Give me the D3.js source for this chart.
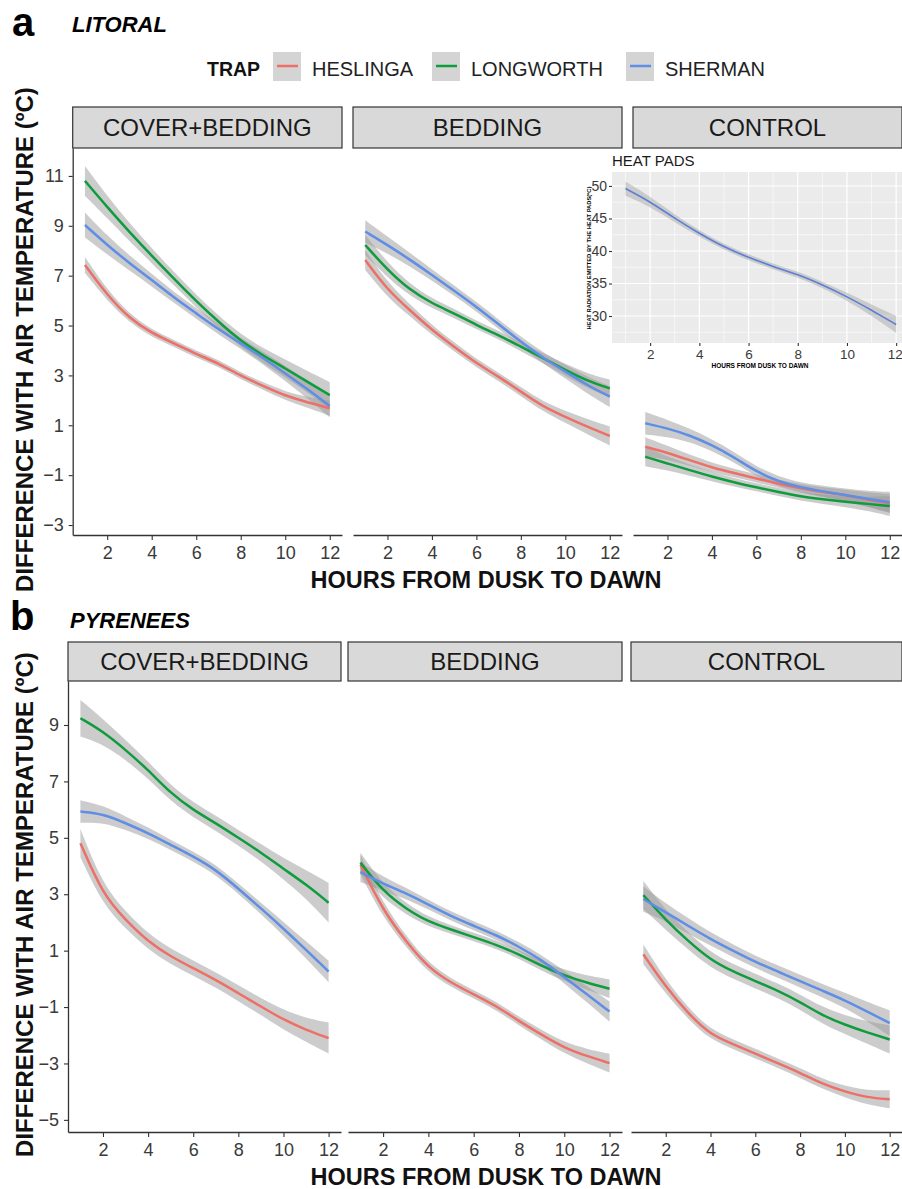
<!DOCTYPE html>
<html>
<head>
<meta charset="utf-8">
<script src="https://cdn.jsdelivr.net/npm/d3@7"></script>
<style>
  body { margin: 0; background: #fff; }
  text { font-family: "Liberation Sans", Arial, sans-serif; }
</style>
</head>
<body>
<div id="showBox"></div>
<script>
// ---- data ----
const hours = [1, 2, 3, 4, 5, 6, 7, 8, 9, 10, 11, 12];
const traps = ["HESLINGA", "LONGWORTH", "SHERMAN"];
const trapColors = ["#ee6f66", "#0e9c3c", "#5e8ee6"];
const treatments = ["COVER+BEDDING", "BEDDING", "CONTROL"];
const xTicks = [2, 4, 6, 8, 10, 12];
const litoralTicks = [-3, -1, 1, 3, 5, 7, 9, 11];
const pyreneesTicks = [-5, -3, -1, 1, 3, 5, 7, 9];
const heatTicks = [30, 35, 40, 45, 50];

// a) LITORAL
const litCovHes = [7.43, 6.22, 5.29, 4.69, 4.29, 3.85, 3.49, 2.98, 2.58, 2.18, 1.92, 1.68];
const litCovLon = [10.8, 9.75, 8.75, 7.8, 6.88, 5.98, 5.15, 4.38, 3.8, 3.28, 2.74, 2.21];
const litCovShe = [9.03, 8.23, 7.5, 6.83, 6.12, 5.49, 4.85, 4.29, 3.7, 3.08, 2.45, 1.77];
const litCovHesSe = [0.32, 0.22, 0.17, 0.15, 0.14, 0.14, 0.14, 0.14, 0.15, 0.17, 0.22, 0.3];
const litCovLonSe = [0.6, 0.45, 0.36, 0.3, 0.27, 0.25, 0.25, 0.26, 0.3, 0.36, 0.43, 0.52];
const litCovSheSe = [0.5, 0.38, 0.3, 0.25, 0.22, 0.21, 0.21, 0.22, 0.25, 0.3, 0.37, 0.45];

const litBedHes = [7.63, 6.43, 5.62, 4.82, 4.15, 3.49, 2.95, 2.35, 1.75, 1.34, 0.94, 0.57];
const litBedLon = [8.23, 7.23, 6.43, 5.89, 5.49, 5.02, 4.62, 4.15, 3.69, 3.22, 2.78, 2.48];
const litBedShe = [8.77, 8.23, 7.65, 7.03, 6.4, 5.76, 5.05, 4.35, 3.7, 3.15, 2.6, 2.15];
const litBedHesSe = [0.4, 0.3, 0.24, 0.2, 0.18, 0.17, 0.17, 0.18, 0.2, 0.24, 0.3, 0.38];
const litBedLonSe = [0.4, 0.3, 0.24, 0.2, 0.18, 0.17, 0.17, 0.18, 0.2, 0.24, 0.3, 0.35];
const litBedSheSe = [0.45, 0.34, 0.27, 0.23, 0.2, 0.19, 0.19, 0.2, 0.22, 0.27, 0.34, 0.42];

const litConHes = [0.14, -0.1, -0.4, -0.69, -0.92, -1.13, -1.35, -1.53, -1.68, -1.8, -1.98, -2.13];
const litConLon = [-0.26, -0.53, -0.8, -1.06, -1.29, -1.49, -1.68, -1.86, -1.97, -2.07, -2.15, -2.24];
const litConShe = [1.08, 0.88, 0.6, 0.21, -0.28, -0.86, -1.26, -1.5, -1.65, -1.8, -1.95, -2.09];
const litConHesSe = [0.38, 0.28, 0.22, 0.19, 0.17, 0.16, 0.16, 0.17, 0.19, 0.22, 0.28, 0.38];
const litConLonSe = [0.38, 0.28, 0.22, 0.19, 0.17, 0.16, 0.16, 0.17, 0.19, 0.22, 0.28, 0.4];
const litConSheSe = [0.45, 0.34, 0.27, 0.23, 0.21, 0.2, 0.2, 0.2, 0.22, 0.26, 0.32, 0.42];

// b) PYRENEES
const pyrCovHes = [4.81, 2.98, 2.09, 1.32, 0.79, 0.38, -0.04, -0.51, -0.98, -1.45, -1.81, -2.1];
const pyrCovLon = [9.24, 8.77, 8.12, 7.41, 6.58, 5.99, 5.52, 5.0, 4.48, 3.9, 3.35, 2.7];
const pyrCovShe = [5.93, 5.85, 5.52, 5.17, 4.75, 4.34, 3.87, 3.2, 2.5, 1.78, 1.03, 0.26];
const pyrCovHesSe = [0.5, 0.35, 0.3, 0.28, 0.27, 0.27, 0.27, 0.28, 0.3, 0.35, 0.42, 0.55];
const pyrCovLonSe = [0.65, 0.45, 0.35, 0.3, 0.28, 0.27, 0.27, 0.28, 0.3, 0.38, 0.5, 0.7];
const pyrCovSheSe = [0.4, 0.3, 0.24, 0.2, 0.18, 0.18, 0.18, 0.18, 0.2, 0.24, 0.3, 0.38];

const pyrBedHes = [4.05, 2.42, 1.34, 0.39, -0.14, -0.55, -0.96, -1.5, -1.98, -2.45, -2.74, -2.99];
const pyrBedLon = [4.12, 3.1, 2.49, 2.02, 1.75, 1.48, 1.21, 0.87, 0.46, 0.12, -0.14, -0.35];
const pyrBedShe = [3.78, 3.37, 3.04, 2.63, 2.22, 1.88, 1.55, 1.14, 0.67, 0.06, -0.55, -1.16];
const pyrBedHesSe = [0.35, 0.25, 0.2, 0.17, 0.15, 0.15, 0.15, 0.15, 0.17, 0.2, 0.25, 0.33];
const pyrBedLonSe = [0.35, 0.25, 0.2, 0.17, 0.15, 0.15, 0.15, 0.15, 0.17, 0.2, 0.25, 0.33];
const pyrBedSheSe = [0.35, 0.25, 0.2, 0.17, 0.16, 0.16, 0.16, 0.16, 0.18, 0.22, 0.28, 0.36];

const pyrConHes = [0.87, -0.28, -1.23, -1.98, -2.31, -2.65, -2.99, -3.33, -3.73, -4.0, -4.21, -4.27];
const pyrConLon = [2.97, 2.09, 1.34, 0.67, 0.26, -0.08, -0.42, -0.82, -1.3, -1.63, -1.9, -2.15];
const pyrConShe = [2.83, 2.36, 1.88, 1.41, 1.0, 0.6, 0.26, -0.08, -0.42, -0.76, -1.16, -1.57];
const pyrConHesSe = [0.35, 0.25, 0.2, 0.18, 0.17, 0.17, 0.17, 0.17, 0.18, 0.2, 0.25, 0.32];
const pyrConLonSe = [0.5, 0.35, 0.3, 0.27, 0.26, 0.26, 0.26, 0.27, 0.3, 0.33, 0.4, 0.5];
const pyrConSheSe = [0.45, 0.32, 0.27, 0.24, 0.22, 0.22, 0.22, 0.22, 0.24, 0.27, 0.34, 0.45];

// inset: heat pads
const heatPads = [49.6, 47.6, 45.0, 42.7, 40.6, 39.0, 37.6, 36.4, 34.8, 33.0, 30.9, 28.7];
const heatPadsSe = [1.1, 0.8, 0.6, 0.5, 0.45, 0.45, 0.45, 0.45, 0.5, 0.6, 0.85, 1.3];

const litoral = [
    [[litCovHes, litCovHesSe], [litCovLon, litCovLonSe], [litCovShe, litCovSheSe]],
    [[litBedHes, litBedHesSe], [litBedLon, litBedLonSe], [litBedShe, litBedSheSe]],
    [[litConHes, litConHesSe], [litConLon, litConLonSe], [litConShe, litConSheSe]]
];
const pyrenees = [
    [[pyrCovHes, pyrCovHesSe], [pyrCovLon, pyrCovLonSe], [pyrCovShe, pyrCovSheSe]],
    [[pyrBedHes, pyrBedHesSe], [pyrBedLon, pyrBedLonSe], [pyrBedShe, pyrBedSheSe]],
    [[pyrConHes, pyrConHesSe], [pyrConLon, pyrConLonSe], [pyrConShe, pyrConSheSe]]
];

// ---- layout ----
const W = 902, H = 1189;
const xDomain = [0.45, 12.55];
const layoutA = {stripTop: 107, top: 148, bottom: 535, yDomain: [-3.4, 12.12],
    panels: [[72.7, 342], [353, 622], [633, 902]], yTicks: litoralTicks};
const layoutB = {stripTop: 642, top: 681, bottom: 1132, yDomain: [-5.43, 10.56],
    panels: [[68, 341], [348, 622], [631, 902]], yTicks: pyreneesTicks};

const svg = d3.select("#showBox").append("svg")
    .attr("width", W).attr("height", H)
    .style("display", "block")
    .style("background", "#fff");

function styleAxis(g, size) {
    g.select(".domain").attr("stroke", "#333").attr("stroke-width", 1.3);
    g.selectAll(".tick line").attr("stroke", "#333").attr("stroke-width", 1.1);
    g.selectAll(".tick text").attr("fill", "#3a3a3a")
        .attr("font-size", size)
        .attr("font-family", "'Liberation Sans', Arial, sans-serif");
}

function drawRegion(L, data) {
    const y = d3.scaleLinear().domain(L.yDomain).range([L.bottom, L.top]);

    data.forEach((facet, i) => {
        const [x0, x1] = L.panels[i];
        const x = d3.scaleLinear().domain(xDomain).range([x0, x1]);
        const g = svg.append("g");

        // strip
        g.append("rect")
            .attr("x", x0).attr("y", L.stripTop)
            .attr("width", x1 - x0).attr("height", L.top - L.stripTop)
            .attr("fill", "#d9d9d9").attr("stroke", "#333").attr("stroke-width", 1.2);
        g.append("text")
            .attr("x", (x0 + x1) / 2).attr("y", (L.stripTop + L.top) / 2)
            .attr("dy", "0.36em").attr("text-anchor", "middle")
            .attr("font-size", 24).attr("fill", "#1a1a1a")
            .text(treatments[i]);

        const area = d3.area()
            .x((d, j) => x(hours[j]))
            .y0((d, j) => y(d[0][j] - d[1][j]))
            .y1((d, j) => y(d[0][j] + d[1][j]))
            .curve(d3.curveBasis);
        const line = d3.line()
            .x((v, j) => x(hours[j]))
            .y(v => y(v))
            .curve(d3.curveBasis);

        // confidence ribbons
        g.append("g").selectAll("path")
            .data(facet)
            .join("path")
            .attr("d", s => area(hours.map(() => s)))
            .attr("fill", "#999")
            .attr("fill-opacity", 0.5);

        // smooth lines
        g.append("g").selectAll("path")
            .data(facet)
            .join("path")
            .attr("d", s => line(s[0]))
            .attr("fill", "none")
            .attr("stroke", (s, k) => trapColors[k])
            .attr("stroke-width", 2.5);

        const xa = g.append("g")
            .attr("transform", `translate(0,${L.bottom})`)
            .call(d3.axisBottom(x).tickValues(xTicks).tickSize(5).tickSizeOuter(0).tickPadding(6));
        styleAxis(xa, 18);

        if (i === 0) {
            const ya = g.append("g")
                .attr("transform", `translate(${x0},0)`)
                .call(d3.axisLeft(y).tickValues(L.yTicks).tickSize(4).tickSizeOuter(0).tickPadding(5));
            styleAxis(ya, 18);
        }
    });

    // axis titles
    svg.append("text")
        .attr("transform", `translate(33,${(L.top + L.bottom) / 2 - 2}) rotate(-90)`)
        .attr("text-anchor", "middle")
        .attr("font-size", 24).attr("font-weight", "bold").attr("fill", "#111")
        .text("DIFFERENCE WITH AIR TEMPERATURE (ºC)");
    svg.append("text")
        .attr("x", 486).attr("y", L.bottom + 53)
        .attr("text-anchor", "middle")
        .attr("font-size", 23.5).attr("font-weight", "bold").attr("fill", "#111")
        .text("HOURS FROM DUSK TO DAWN");
}

drawRegion(layoutA, litoral);
drawRegion(layoutB, pyrenees);

// panel labels
svg.append("text").attr("x", 12).attr("y", 36)
    .attr("font-size", 40).attr("font-weight", "bold").text("a");
svg.append("text").attr("x", 72).attr("y", 32)
    .attr("font-size", 22).attr("font-weight", "bold").attr("font-style", "italic").text("LITORAL");
svg.append("text").attr("x", 10).attr("y", 630)
    .attr("font-size", 40).attr("font-weight", "bold").text("b");
svg.append("text").attr("x", 70).attr("y", 628)
    .attr("font-size", 22).attr("font-weight", "bold").attr("font-style", "italic").text("PYRENEES");

// legend
const legend = svg.append("g");
legend.append("text").attr("x", 207).attr("y", 76)
    .attr("font-size", 19.5).attr("font-weight", "bold").attr("fill", "#111").text("TRAP");
const keyX = [273, 432, 626];
traps.forEach((t, k) => {
    legend.append("rect").attr("x", keyX[k]).attr("y", 52).attr("width", 28).attr("height", 29)
        .attr("fill", "#d4d4d4");
    legend.append("line").attr("x1", keyX[k] + 4).attr("x2", keyX[k] + 25)
        .attr("y1", 66).attr("y2", 66)
        .attr("stroke", trapColors[k]).attr("stroke-width", 2.5);
    legend.append("text").attr("x", keyX[k] + 39).attr("y", 76)
        .attr("font-size", 20).attr("fill", "#222").text(t);
});

// ---- inset: HEAT PADS ----
const inset = svg.append("g");
const ix = d3.scaleLinear().domain(xDomain).range([612, 909.7]);
const iy = d3.scaleLinear().domain([25.85, 52.15]).range([343, 172]);
inset.append("rect").attr("x", 612).attr("y", 172).attr("width", 297.7).attr("height", 171)
    .attr("fill", "#ebebeb");
// minor grid
inset.append("g").selectAll("line")
    .data([1, 3, 5, 7, 9, 11]).join("line")
    .attr("x1", d => ix(d)).attr("x2", d => ix(d)).attr("y1", 172).attr("y2", 343)
    .attr("stroke", "#fff").attr("stroke-width", 0.6);
inset.append("g").selectAll("line")
    .data([27.5, 32.5, 37.5, 42.5, 47.5]).join("line")
    .attr("x1", 612).attr("x2", 909.7).attr("y1", d => iy(d)).attr("y2", d => iy(d))
    .attr("stroke", "#fff").attr("stroke-width", 0.6);
// major grid
inset.append("g").selectAll("line")
    .data(xTicks).join("line")
    .attr("x1", d => ix(d)).attr("x2", d => ix(d)).attr("y1", 172).attr("y2", 343)
    .attr("stroke", "#fff").attr("stroke-width", 1.2);
inset.append("g").selectAll("line")
    .data(heatTicks).join("line")
    .attr("x1", 612).attr("x2", 909.7).attr("y1", d => iy(d)).attr("y2", d => iy(d))
    .attr("stroke", "#fff").attr("stroke-width", 1.2);

inset.append("path")
    .attr("d", d3.area()
        .x((d, j) => ix(hours[j]))
        .y0((d, j) => iy(heatPads[j] - heatPadsSe[j]))
        .y1((d, j) => iy(heatPads[j] + heatPadsSe[j]))
        .curve(d3.curveBasis)(hours))
    .attr("fill", "#999").attr("fill-opacity", 0.4);
inset.append("path")
    .attr("d", d3.line()
        .x((d, j) => ix(hours[j]))
        .y(d => iy(d))
        .curve(d3.curveBasis)(heatPads))
    .attr("fill", "none").attr("stroke", "#5b7fd6").attr("stroke-width", 1.6);

const ixa = inset.append("g").attr("transform", "translate(0,343)")
    .call(d3.axisBottom(ix).tickValues(xTicks).tickSize(3).tickSizeOuter(0).tickPadding(3));
ixa.select(".domain").remove();
styleAxis(ixa, 13.5);
// last label sits against the right edge of the picture
ixa.selectAll(".tick text").filter(d => d === 12).attr("text-anchor", "end").attr("dx", 6);
const iya = inset.append("g").attr("transform", "translate(612,0)")
    .call(d3.axisLeft(iy).tickValues(heatTicks).tickSize(3).tickSizeOuter(0).tickPadding(2));
iya.select(".domain").remove();
styleAxis(iya, 14);

inset.append("text").attr("x", 612).attr("y", 166)
    .attr("font-size", 15).attr("fill", "#1a1a1a").text("HEAT PADS");
inset.append("text").attr("x", 760).attr("y", 368).attr("text-anchor", "middle")
    .attr("font-size", 6.5).attr("font-weight", "bold").text("HOURS FROM DUSK TO DAWN");
inset.append("text")
    .attr("transform", "translate(591,258) rotate(-90)")
    .attr("text-anchor", "middle")
    .attr("font-size", 5.8).attr("font-weight", "bold")
    .text("HEAT RADIATION EMITTED BY THE HEAT PADS(ºC)");
</script>
</body>
</html>
